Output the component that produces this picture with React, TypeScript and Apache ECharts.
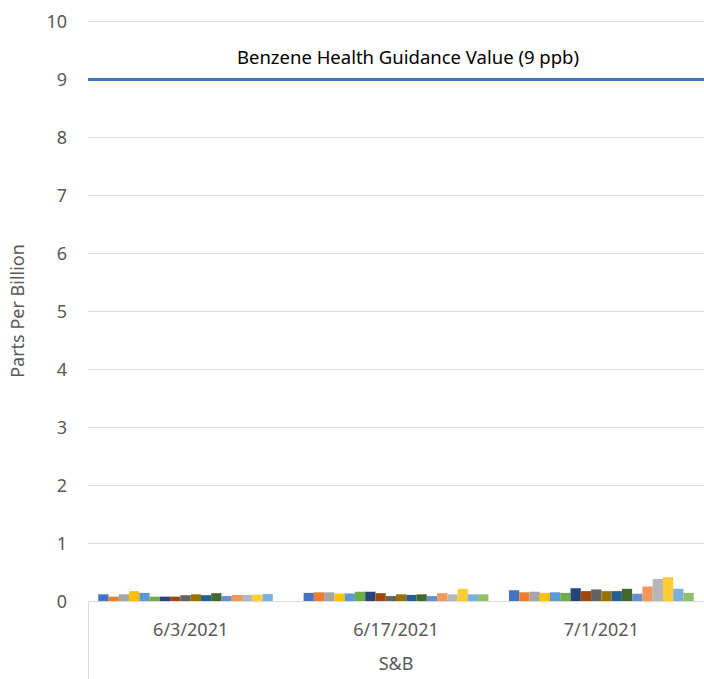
import React, { useEffect, useRef } from "react";
import * as echarts from "echarts";

const categories = ["6/3/2021", "6/17/2021", "7/1/2021"];
const groupLabel = ["S&B"];
const yTicks = { min: 0, max: 10, interval: 1 };
const guidanceValue = 9;
const guidanceLabel = "Benzene Health Guidance Value (9 ppb)";

const seriesColors = [
  "#4472C4", "#ED7D31", "#A5A5A5", "#FFC000", "#5B9BD5", "#70AD47",
  "#264478", "#9E480E", "#636363", "#997300", "#255E91", "#43682B",
  "#698ED0", "#F1975A", "#B7B7B7", "#FFCD33", "#7CAFDD", "#8CC168",
];

const s01 = [0.115, 0.14, 0.185];
const s02 = [0.075, 0.15, 0.15];
const s03 = [0.115, 0.15, 0.16];
const s04 = [0.17, 0.13, 0.14];
const s05 = [0.14, 0.13, 0.15];
const s06 = [0.075, 0.16, 0.14];
const s07 = [0.075, 0.16, 0.22];
const s08 = [0.075, 0.135, 0.17];
const s09 = [0.1, 0.085, 0.2];
const s10 = [0.115, 0.115, 0.17];
const s11 = [0.1, 0.105, 0.17];
const s12 = [0.135, 0.115, 0.21];
const s13 = [0.085, 0.085, 0.125];
const s14 = [0.105, 0.135, 0.25];
const s15 = [0.105, 0.115, 0.38];
const s16 = [0.11, 0.21, 0.41];
const s17 = [0.12, 0.115, 0.21];
const s18 = [null, 0.115, 0.14];

const seriesValues = [s01, s02, s03, s04, s05, s06, s07, s08, s09, s10, s11, s12, s13, s14, s15, s16, s17, s18];

const FONT = "Noto Sans";

export default function App() {
  const ref = useRef<HTMLDivElement>(null);
  useEffect(() => {
    if (!ref.current) return;
    const chart = echarts.init(ref.current, undefined, { renderer: "svg" });
    const bars: any[] = seriesValues.map((vals, i) => ({
      type: "bar",
      name: "S" + (i + 1),
      data: vals,
      barGap: "0%",
      barCategoryGap: "10%",
      itemStyle: { color: seriesColors[i] },
      xAxisIndex: 0,
      yAxisIndex: 0,
    }));
    bars[0].markLine = {
      silent: true,
      symbol: "none",
      lineStyle: { color: "#4472C4", width: 3, type: "solid" },
      label: {
        show: true,
        position: "middle",
        formatter: guidanceLabel,
        color: "#000000",
        fontFamily: FONT,
        fontSize: 18.5,
        distance: 13,
        padding: [0, 0, 0, 24],
      },
      data: [{ yAxis: guidanceValue }],
    };
    chart.setOption({
      animation: false,
      textStyle: { fontFamily: FONT },
      grid: { left: 78, right: 0, top: 21, bottom: 78, containLabel: false },
      xAxis: [
        {
          type: "category",
          data: categories,
          axisLine: { show: true, lineStyle: { color: "#D9D9D9", width: 1 } },
          axisTick: { show: false },
          axisLabel: { color: "#595959", fontSize: 18, fontFamily: FONT, margin: 19 },
        },
        {
          type: "category",
          data: groupLabel,
          position: "bottom",
          axisLine: { show: false },
          axisTick: { show: true, length: 78, lineStyle: { color: "#D9D9D9" } },
          axisLabel: { color: "#595959", fontSize: 18, fontFamily: FONT, margin: 53 },
        },
      ],
      yAxis: {
        type: "value",
        min: yTicks.min,
        max: yTicks.max,
        interval: yTicks.interval,
        name: "Parts Per Billion",
        nameLocation: "middle",
        nameGap: 62,
        nameTextStyle: { color: "#595959", fontSize: 18, fontFamily: FONT },
        axisLine: { show: false },
        axisTick: { show: false },
        axisLabel: { color: "#595959", fontSize: 18, fontFamily: FONT, margin: 21 },
        splitLine: { lineStyle: { color: "#D9D9D9", width: 1 } },
      },
      series: bars,
    });
    return () => chart.dispose();
  }, []);
  return <div ref={ref} style={{ width: 704, height: 679, position: "absolute", left: 0, top: 0 }} />;
}
